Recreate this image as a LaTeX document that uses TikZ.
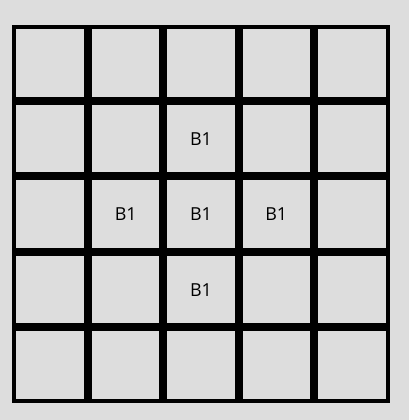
\documentclass[tikz,border=0pt]{standalone}
\usepackage{fontspec}
\setmainfont{Open Sans}
\definecolor{bgc}{HTML}{DDDDDD}
\tikzset{
  outerline/.style={draw=black,line width=4bp},
  innerline/.style={draw=black,line width=8bp},
  lbl/.style={font=\fontsize{18}{21}\selectfont,inner sep=0pt,text=black}
}
\begin{document}
\begin{tikzpicture}[x=1bp,y=-1bp]
\fill[bgc] (0,0) rectangle (409,420);
\useasboundingbox (0,0) rectangle (409,420);
\foreach \x in {88,163.33,238.67,314} {
  \draw[innerline] (\x,27) -- (\x,401);
}
\foreach \y in {101,176.33,251.67,327} {
  \draw[innerline] (14,\y) -- (388,\y);
}
\draw[outerline] (14,27) rectangle (388,401);
\node[lbl] (b12) at (201,139) {B1};
\node[lbl] (b21) at (125.7,214.3) {B1};
\node[lbl] (b22) at (201,214.3) {B1};
\node[lbl] (b23) at (276.3,214.3) {B1};
\node[lbl] (b32) at (201,289.7) {B1};
\end{tikzpicture}
\end{document}
